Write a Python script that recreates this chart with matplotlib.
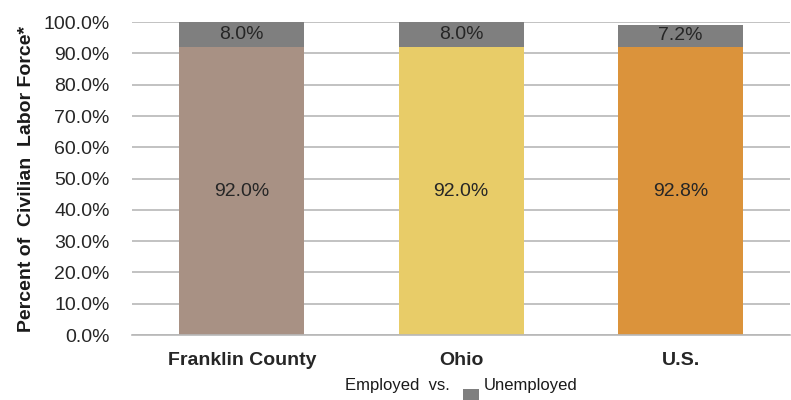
import matplotlib
matplotlib.use("Agg")
import matplotlib.pyplot as plt
from matplotlib.patches import Rectangle

plt.rcParams['font.family'] = ['Liberation Sans Narrow', 'Liberation Sans', 'DejaVu Sans']

regions = ["Franklin County", "Ohio", "U.S."]
employed = [92.0, 92.0, 92.0]
unemployed = [8.0, 8.0, 7.2]
employed_labels = ["92.0%", "92.0%", "92.8%"]
unemployed_labels = ["8.0%", "8.0%", "7.2%"]
bar_colors = ["#A89184", "#E8CC68", "#DB933B"]
unemp_color = "#7F7F7F"

fig = plt.figure(figsize=(7.91, 4.0), dpi=100)
ax = fig.add_axes([0.167, 0.1625, 0.832, 0.782])

x = range(len(regions))
ax.bar(x, employed, width=0.57, color=bar_colors, zorder=2)
ax.bar(x, unemployed, width=0.57, bottom=employed, color=unemp_color, zorder=2)

for i in x:
    ax.text(i, employed[i] / 2, employed_labels[i], ha='center', va='center',
            fontsize=14, color='#262626')
    ax.text(i, employed[i] + unemployed[i] / 2, unemployed_labels[i], ha='center',
            va='center', fontsize=14, color='#262626')

ax.set_xlim(-0.5, 2.5)
ax.set_ylim(0, 100)
ax.set_yticks(range(0, 101, 10))
ax.set_yticklabels(["%.1f%%" % v for v in range(0, 101, 10)], fontsize=14, color='#262626')
ax.set_xticks(list(x))
ax.set_xticklabels(regions, fontsize=14, fontweight='bold', color='#262626')
ax.tick_params(axis='y', length=0, pad=16)
ax.tick_params(axis='x', length=0, pad=12)
ax.grid(axis='y', color='#B8B8B8', linewidth=1.2, zorder=0)
for side in ['top', 'right', 'left']:
    ax.spines[side].set_visible(False)
ax.spines['bottom'].set_color('#B8B8B8')
ax.spines['bottom'].set_linewidth(1.2)

ax.set_ylabel("Percent of  Civilian  Labor Force*", fontsize=14,
              fontweight='bold', color='#1a1a1a', labelpad=6)

# legend drawn by hand
fig.text(0.436, 0.037, "Employed  vs.", fontsize=12, va='center', ha='left', color='#1a1a1a')
fig.patches.append(Rectangle((0.585, 0.0), 0.02, 0.0275, transform=fig.transFigure,
                             facecolor=unemp_color, edgecolor='none'))
fig.text(0.612, 0.037, "Unemployed", fontsize=12, va='center', ha='left', color='#1a1a1a')

fig.savefig("out.png", dpi=100)
